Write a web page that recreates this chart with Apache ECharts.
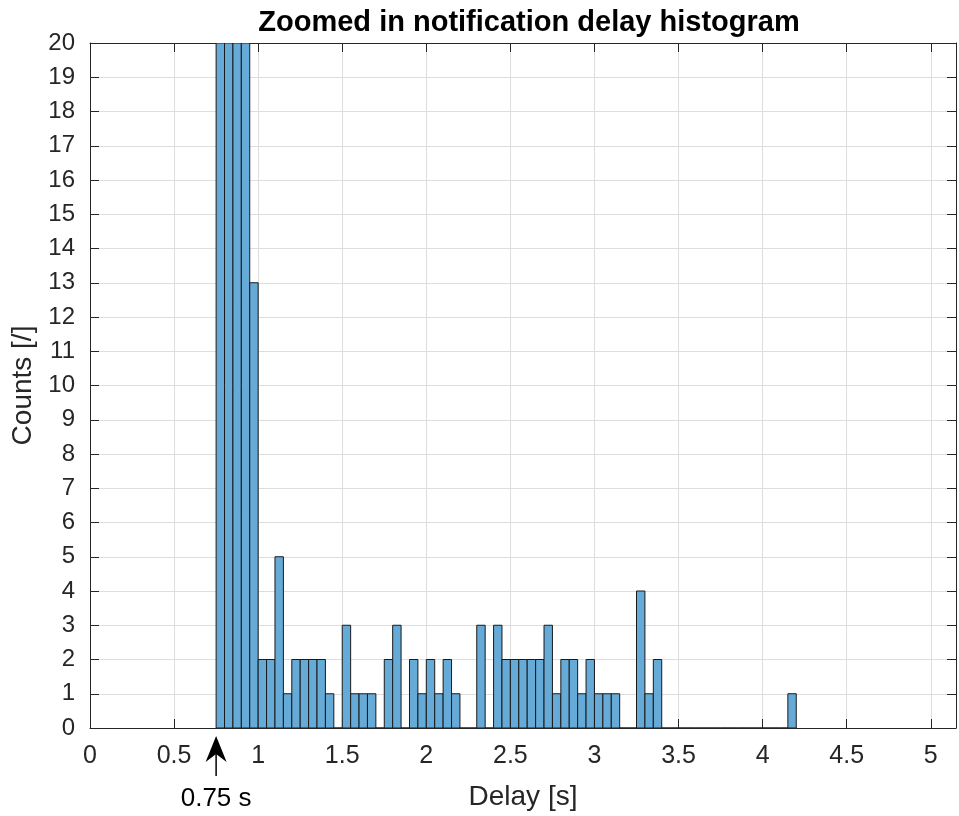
<!DOCTYPE html>
<html>
<head>
<meta charset="utf-8">
<script src="https://cdn.jsdelivr.net/npm/echarts@6/dist/echarts.min.js"></script>
<style>
html,body{margin:0;padding:0;background:#fff;}
#chart{width:959px;height:816px;}
</style>
</head>
<body>
<div id="chart"></div>
<script>
// Histogram bins (left edges, width 0.05 s) and counts
const binLeft = [0.75,0.80,0.85,0.90,0.95,
  1.00,1.05,1.10,1.15,1.20,1.25,1.30,1.35,1.40,1.45,
  1.50,1.55,1.60,1.65,1.70,1.75,1.80,1.85,1.90,1.95,
  2.00,2.05,2.10,2.15,2.20,2.25,2.30,2.35,2.40,2.45,
  2.50,2.55,2.60,2.65,2.70,2.75,2.80,2.85,2.90,2.95,
  3.00,3.05,3.10,3.15,3.20,3.25,3.30,3.35,3.40,3.45,
  3.50,3.55,3.60,3.65,3.70,3.75,3.80,3.85,3.90,3.95,
  4.00,4.05,4.10,4.15];
const binWidth = 0.05;
const counts = [20,20,20,20,13,
  2,2,5,1,2,2,2,2,1,0,
  3,1,1,1,0,2,3,0,2,1,
  2,1,2,1,0,0,3,0,3,2,
  2,2,2,2,3,1,2,2,1,2,
  1,1,1,0,0,4,1,2,0,0,
  0,0,0,0,0,0,0,0,0,0,
  0,0,0,1];
const xTicks = [0,0.5,1,1.5,2,2.5,3,3.5,4,4.5,5];
const annotationX = 0.75;
const annotationText = '0.75 s';
const titleText = 'Zoomed in notification delay histogram';

const FONT = 'Liberation Sans, Arial, Helvetica, sans-serif';
const AXC = '#262626';
const GRIDC = '#dedede';

const data = binLeft.map((b, i) => [b, b + binWidth, counts[i]]);

const chart = echarts.init(document.getElementById('chart'));
const axLine = {show: true, onZero: false, lineStyle: {color: AXC, width: 1}};
const axTick = {show: true, inside: true, length: 9, lineStyle: {color: AXC, width: 1}};
const option = {
  animation: false,
  backgroundColor: '#fff',
  title: {
    text: titleText, left: 524, top: 3, textAlign: 'center',
    textStyle: {fontFamily: FONT, fontWeight: 'bold', fontSize: 29, color: '#000'}
  },
  grid: {left: 90, right: 1, top: 43, bottom: 87, containLabel: false},
  xAxis: [{
    type: 'value', min: 0, max: 5.15, interval: 0.5, position: 'bottom',
    name: 'Delay [s]', nameLocation: 'middle', nameGap: 55,
    nameTextStyle: {fontFamily: FONT, fontSize: 28, color: AXC},
    axisLine: axLine, axisTick: axTick,
    axisLabel: {fontFamily: FONT, fontSize: 25, color: AXC, margin: 16,
      formatter: v => xTicks.some(t => Math.abs(t - v) < 1e-9) ? String(v) : ''},
    splitLine: {show: true, lineStyle: {color: GRIDC, width: 1}}
  }, {
    type: 'value', min: 0, max: 5.15, interval: 0.5, position: 'top',
    axisLine: axLine, axisTick: axTick,
    axisLabel: {show: false}, splitLine: {show: false}
  }],
  yAxis: [{
    type: 'value', min: 0, max: 20, interval: 1, position: 'left',
    name: 'Counts [/]', nameLocation: 'middle', nameGap: 48, nameRotate: 90,
    nameTextStyle: {fontFamily: FONT, fontSize: 28, color: AXC},
    axisLine: axLine, axisTick: axTick,
    axisLabel: {fontFamily: FONT, fontSize: 24, color: AXC, margin: 15},
    splitLine: {show: true, lineStyle: {color: GRIDC, width: 1}}
  }, {
    type: 'value', min: 0, max: 20, interval: 1, position: 'right',
    axisLine: axLine, axisTick: axTick,
    axisLabel: {show: false}, splitLine: {show: false}
  }],
  series: [{
    type: 'custom',
    xAxisIndex: 0, yAxisIndex: 0,
    clip: true,
    encode: {x: [0, 1], y: 2},
    data: data,
    renderItem: function (params, api) {
      const p0 = api.coord([api.value(0), 0]);
      const p1 = api.coord([api.value(1), api.value(2)]);
      return {
        type: 'rect',
        shape: {x: p0[0], y: p1[1], width: p1[0] - p0[0], height: p0[1] - p1[1]},
        style: {fill: '#66aad7', stroke: '#1a1a1a', lineWidth: 1}
      };
    }
  }]
};
chart.setOption(option);

// Annotation arrow pointing at 0.75 s below the axis
const ax = chart.convertToPixel({xAxisIndex: 0}, annotationX);
const baseY = chart.convertToPixel({yAxisIndex: 0}, 0);
const tipY = baseY + 8;
chart.setOption({
  graphic: [
    {type: 'polygon', shape: {points: [[ax, tipY], [ax - 10.5, tipY + 26], [ax, tipY + 18], [ax + 10.5, tipY + 26]]},
      style: {fill: '#000'}},
    {type: 'line', shape: {x1: ax, y1: tipY + 18, x2: ax, y2: tipY + 40},
      style: {stroke: '#000', lineWidth: 1.5}},
    {type: 'text', x: ax, y: tipY + 50,
      style: {text: annotationText, fontFamily: FONT, fontSize: 26, fill: '#000', align: 'center', verticalAlign: 'top'}}
  ]
});
</script>
</body>
</html>
